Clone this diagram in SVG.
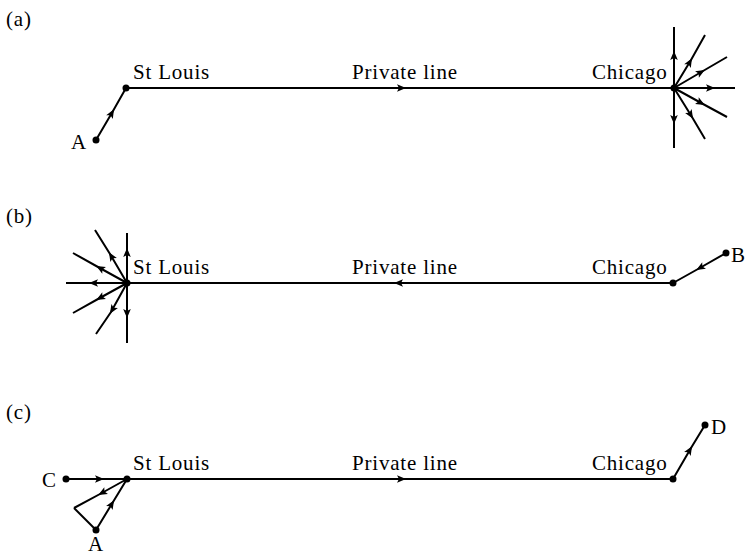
<svg xmlns="http://www.w3.org/2000/svg" width="748" height="556" viewBox="0 0 748 556">
<style>
text{font-family:"Liberation Serif","Times New Roman",serif;font-size:21px;fill:#000;letter-spacing:0.8px}
.ln{fill:none;stroke:#000;stroke-width:2;stroke-linejoin:miter}
.ar{fill:none;stroke:#000;stroke-width:2;marker-mid:url(#ah)}
.dot{fill:#000}
</style>
<defs>
<marker id="ah" markerUnits="userSpaceOnUse" markerWidth="14" markerHeight="10" refX="0" refY="0" viewBox="-10 -5 14 10" orient="auto" overflow="visible">
<path d="M2,0 L-7,-3.8 L-5,0 L-7,3.8 Z" fill="#000"/>
</marker>
</defs>

<g id="labels">
<text x="6" y="26">(a)</text>
<text x="6" y="223">(b)</text>
<text x="6" y="419">(c)</text>
</g>

<!-- Panel (a) -->
<g id="a-nodes">
<g id="a-A"><circle class="dot" cx="96" cy="140" r="3.5"/><text x="71" y="149">A</text></g>
<g id="a-StLouis"><circle class="dot" cx="126" cy="88" r="3.5"/><text x="133" y="79">St Louis</text></g>
<g id="a-Chicago"><circle class="dot" cx="674" cy="88" r="3.5"/><text x="592" y="79">Chicago</text></g>
</g>
<g id="a-connectors">
<polyline class="ar" points="96,140 113,111 126,88"/>
<polyline class="ar" points="126,88 404,88 674,88"/>
<polyline class="ar" points="674,88 674,53 674,27"/>
<polyline class="ar" points="674,88 674,122 674,148"/>
<polyline class="ar" points="674,88 713,88 735,88"/>
<polyline class="ar" points="674,88 691,60 705,35"/>
<polyline class="ar" points="674,88 703,71 727,57"/>
<polyline class="ar" points="674,88 703,104 727,117"/>
<polyline class="ar" points="674,88 692,117 705,139"/>
</g>
<text x="352" y="79">Private line</text>

<!-- Panel (b) -->
<g id="b-nodes">
<g id="b-StLouis"><circle class="dot" cx="127" cy="283" r="3.5"/><text x="133" y="274">St Louis</text></g>
<g id="b-Chicago"><circle class="dot" cx="673" cy="283" r="3.5"/><text x="592" y="274">Chicago</text></g>
<g id="b-B"><circle class="dot" cx="726" cy="253" r="3.5"/><text x="731" y="262">B</text></g>
</g>
<g id="b-connectors">
<polyline class="ar" points="726,253 698,269 673,283"/>
<polyline class="ar" points="673,283 396,283 127,283"/>
<polyline class="ar" points="127,283 127,250 127,233"/>
<polyline class="ar" points="127,283 127,316 127,343"/>
<polyline class="ar" points="127,283 91,283 66,283"/>
<polyline class="ar" points="127,283 110,254 95,230"/>
<polyline class="ar" points="127,283 98,267 73,253"/>
<polyline class="ar" points="127,283 98,299 73,313"/>
<polyline class="ar" points="127,283 111,312 96,334"/>
</g>
<text x="352" y="274">Private line</text>

<!-- Panel (c) -->
<g id="c-nodes">
<g id="c-C"><circle class="dot" cx="66" cy="479" r="3.5"/><text x="42" y="487">C</text></g>
<g id="c-A"><circle class="dot" cx="96" cy="530" r="3.5"/><text x="88" y="551">A</text></g>
<g id="c-StLouis"><circle class="dot" cx="127" cy="479" r="3.5"/><text x="133" y="470">St Louis</text></g>
<g id="c-Chicago"><circle class="dot" cx="673" cy="479" r="3.5"/><text x="592" y="470">Chicago</text></g>
<g id="c-D"><circle class="dot" cx="705" cy="425" r="3.5"/><text x="711" y="434">D</text></g>
</g>
<g id="c-connectors">
<polyline class="ar" points="66,479 102,479 127,479"/>
<polyline class="ar" points="127,479 100,494 74,508"/>
<polyline class="ln" points="74,508 96,530"/>
<polyline class="ar" points="96,530 113,502 127,479"/>
<polyline class="ar" points="127,479 404,479 673,479"/>
<polyline class="ar" points="673,479 691,448 705,425"/>
</g>
<text x="352" y="470">Private line</text>
</svg>
